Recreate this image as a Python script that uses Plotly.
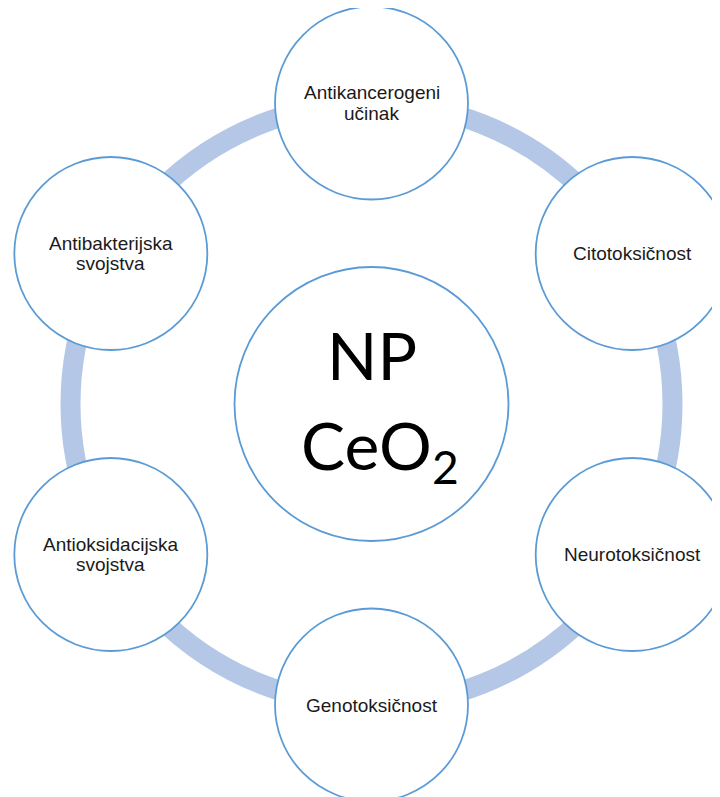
import math
import plotly.graph_objects as go

# ---- data ----
center_lines = ["NP", "CeO<sub>2</sub>"]
node_labels = [
    ["Antikancerogeni", "učinak"],
    ["Citotoksičnost"],
    ["Neurotoksičnost"],
    ["Genotoksičnost"],
    ["Antioksidacijska", "svojstva"],
    ["Antibakterijska", "svojstva"],
]
node_angles_deg = [90, 30, -30, -90, -150, 150]

# ---- geometry / style ----
PAGE_W, PAGE_H = 720, 797
OFF = 8  # default body margin of the page
CX, CY = 371.5, 404
RING_R = 301
NODE_R = 96.5
CENTER_R = 137
RING_COLOR = "#B4C7E7"
EDGE_COLOR = "#5B9BD5"
TEXT_COLOR = "#1a1a1a"
NODE_FONT = dict(family="Liberation Sans, Arial, sans-serif", size=19, color=TEXT_COLOR)
CENTER_FONT = dict(family="Lato, Open Sans, sans-serif", size=66, color="#000000")

fig = go.Figure()
shapes = []
annotations = []

# ring
shapes.append(dict(type="circle", xref="x", yref="y",
                   x0=CX - RING_R, x1=CX + RING_R, y0=CY - RING_R, y1=CY + RING_R,
                   line=dict(color=RING_COLOR, width=20), fillcolor="rgba(0,0,0,0)",
                   layer="below"))

# center circle
shapes.append(dict(type="circle", xref="x", yref="y",
                   x0=CX - CENTER_R, x1=CX + CENTER_R, y0=CY - CENTER_R, y1=CY + CENTER_R,
                   line=dict(color=EDGE_COLOR, width=1.8), fillcolor="white"))

# center text
annotations.append(dict(x=CX, y=CY - 50, xref="x", yref="y", text=center_lines[0],
                        showarrow=False, font=CENTER_FONT, xanchor="center", yanchor="middle"))
annotations.append(dict(x=CX + 8, y=CY + 45, xref="x", yref="y", text=center_lines[1],
                        showarrow=False, font=CENTER_FONT, xanchor="center", yanchor="middle"))

LINE_GAP = 20.5
for lines, ang in zip(node_labels, node_angles_deg):
    a = math.radians(ang)
    nx = CX + RING_R * math.cos(a)
    ny = CY - RING_R * math.sin(a)
    shapes.append(dict(type="circle", xref="x", yref="y",
                       x0=nx - NODE_R, x1=nx + NODE_R, y0=ny - NODE_R, y1=ny + NODE_R,
                       line=dict(color=EDGE_COLOR, width=1.8), fillcolor="white"))
    n = len(lines)
    for i, line in enumerate(lines):
        off = (i - (n - 1) / 2) * LINE_GAP
        annotations.append(dict(x=nx, y=ny + off, xref="x", yref="y", text=line,
                                showarrow=False, font=NODE_FONT,
                                xanchor="center", yanchor="middle"))

fig.update_layout(
    width=PAGE_W - OFF, height=PAGE_H - OFF,
    margin=dict(l=0, r=0, t=0, b=0),
    paper_bgcolor="white", plot_bgcolor="white",
    xaxis=dict(range=[OFF, PAGE_W], visible=False, fixedrange=True),
    yaxis=dict(range=[PAGE_H, OFF], visible=False, fixedrange=True),
    shapes=shapes, annotations=annotations,
    showlegend=False,
)

fig.write_html("out.html")
